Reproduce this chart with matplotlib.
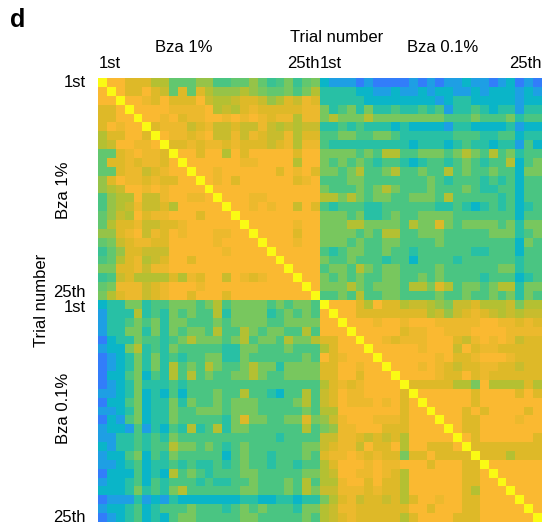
import numpy as np
import matplotlib
matplotlib.use("Agg")
import matplotlib.pyplot as plt
from matplotlib.colors import LinearSegmentedColormap

plt.rcParams['font.family'] = ['Liberation Sans', 'DejaVu Sans']

# similarity level per trial pair (0 = blue ... 9 = yellow)
# Bza 1% vs Bza 1%
block_11 = [
    "9 8 8 7 7 7 6 6 5 5 5 6 5 4 4 4 5 6 5 4 4 5 4 5 5",
    "8 9 8 7 7 8 7 7 5 7 5 7 6 6 6 6 6 5 5 5 4 5 4 5 6",
    "8 8 9 8 8 7 7 8 7 7 7 8 6 6 6 7 7 7 6 5 6 7 6 8 7",
    "7 7 8 9 8 8 8 8 7 7 7 7 8 5 7 5 8 8 8 8 7 7 8 8 8",
    "7 7 8 8 9 8 8 7 8 7 8 8 8 8 8 8 8 8 8 8 8 8 7 8 8",
    "7 8 8 8 8 9 7 7 7 7 6 6 7 6 6 7 6 6 7 7 6 6 7 6 6",
    "6 7 7 8 8 7 9 8 8 7 8 8 8 8 7 8 8 8 7 8 7 8 6 7 7",
    "6 6 8 8 8 8 8 9 7 7 7 7 7 7 7 7 7 7 7 7 8 8 6 8 7",
    "4 4 7 8 8 8 7 7 9 8 8 7 8 8 6 8 7 8 8 8 8 8 7 8 8",
    "4 7 7 8 7 8 8 7 8 9 8 8 8 8 8 8 7 8 8 8 8 8 6 8 8",
    "4 4 7 8 7 7 6 8 8 8 9 8 8 8 8 8 8 8 8 8 7 8 8 8 7",
    "5 7 8 8 7 8 7 7 7 8 8 9 8 7 8 7 8 8 8 8 8 8 7 7 8",
    "6 6 7 8 8 8 8 8 8 8 8 8 9 8 8 8 8 8 8 8 8 8 8 8 8",
    "4 5 6 7 8 7 5 8 8 8 7 8 8 9 8 8 8 7 8 8 8 8 8 8 8",
    "4 5 6 6 7 7 6 7 6 8 8 8 8 8 9 8 8 7 8 8 8 8 6 8 7",
    "5 5 6 7 8 7 7 8 8 8 8 7 8 8 8 9 8 8 8 8 8 8 8 8 8",
    "4 6 7 6 7 7 5 7 7 8 8 8 8 8 8 8 9 8 8 8 8 8 7 8 8",
    "5 6 7 7 8 7 7 7 8 7 8 8 8 8 8 8 8 9 8 8 8 8 7 8 8",
    "4 5 7 6 7 8 7 7 8 8 8 8 8 7 8 8 8 8 9 8 8 8 7 8 8",
    "3 4 6 6 6 6 5 6 8 8 8 8 8 8 7 8 8 8 8 9 8 8 8 8 8",
    "4 5 6 7 7 6 6 6 8 8 7 8 8 8 8 8 8 8 8 8 9 8 8 8 8",
    "5 5 7 7 7 7 7 7 8 8 8 8 8 8 8 8 8 8 8 8 8 9 8 8 8",
    "3 4 7 6 5 5 6 6 7 6 7 7 8 8 7 8 8 7 8 8 8 8 9 8 8",
    "4 5 7 7 7 7 7 7 8 8 8 8 8 8 8 8 8 8 8 8 8 8 8 9 8",
    "5 6 7 7 7 7 7 8 8 8 7 8 8 8 7 8 8 8 8 8 8 8 8 8 9",
]
# Bza 1% rows vs Bza 0.1% columns
block_12 = [
    "2 1 1 1 0 1 0 0 0 0 1 0 1 0 1 1 2 1 1 0 1 2 0 1 0",
    "3 3 3 3 2 2 1 1 2 1 1 2 1 2 2 1 1 2 1 2 2 2 1 2 1",
    "3 3 3 3 3 2 2 2 2 2 2 2 2 1 2 3 3 2 2 2 2 2 1 2 2",
    "5 3 4 5 3 5 3 3 4 3 3 4 3 4 1 3 3 4 3 2 3 3 1 3 3",
    "5 6 5 5 5 6 5 5 5 5 5 5 5 5 4 4 4 5 4 4 4 5 3 4 4",
    "3 3 4 3 4 3 3 3 2 3 2 2 2 2 1 3 3 2 2 2 2 3 1 2 2",
    "4 4 5 5 4 4 5 5 4 3 3 3 3 3 3 4 4 4 3 3 4 4 2 3 3",
    "4 3 3 3 3 3 3 3 3 3 2 3 3 3 2 3 4 3 3 2 3 3 1 4 2",
    "5 5 5 5 4 5 4 6 6 4 4 5 5 5 4 5 6 5 4 6 4 5 3 4 4",
    "5 4 5 4 5 4 3 4 4 3 2 3 4 4 3 4 5 4 3 4 4 6 2 4 5",
    "5 5 4 5 6 4 4 5 6 4 4 5 4 4 6 4 5 4 4 5 4 4 2 5 5",
    "4 4 4 5 5 4 4 4 4 4 4 4 5 4 3 4 4 4 3 4 3 4 2 4 4",
    "5 4 4 4 5 4 5 6 5 4 4 4 5 4 4 4 5 4 3 3 4 4 2 4 4",
    "6 6 5 6 5 4 5 5 4 4 5 5 5 4 6 4 4 4 4 4 3 4 2 4 4",
    "4 3 4 4 4 3 3 4 4 4 4 4 4 3 3 4 3 2 3 4 3 4 2 3 4",
    "5 5 5 4 5 3 3 4 5 4 4 5 5 5 5 4 4 4 4 4 4 4 2 4 4",
    "5 5 5 6 6 5 5 5 5 4 6 5 5 7 5 4 5 5 5 5 4 5 3 5 5",
    "5 5 5 5 4 5 4 6 6 4 4 5 5 5 4 4 4 4 4 5 5 5 3 4 5",
    "5 5 5 4 5 4 4 5 5 4 4 4 4 5 4 4 4 4 4 4 4 4 2 5 4",
    "4 3 4 5 5 4 4 5 4 4 3 4 4 4 4 4 4 3 3 4 4 4 2 4 4",
    "5 4 4 5 4 4 4 3 4 4 2 4 4 4 4 3 4 4 4 4 4 4 3 4 4",
    "4 5 5 4 6 5 4 5 5 4 4 4 4 5 4 4 4 4 4 4 5 5 3 4 4",
    "5 4 5 4 5 4 4 5 5 4 4 5 4 5 4 4 4 4 3 4 4 4 2 3 4",
    "5 5 5 6 5 4 5 5 5 4 6 6 5 7 6 4 5 5 4 5 6 6 3 5 5",
    "4 4 5 4 6 4 4 5 5 4 4 4 4 5 4 4 5 4 4 5 4 5 3 5 4",
]
# Bza 0.1% vs Bza 0.1%
block_22 = [
    "9 8 8 8 7 7 8 7 7 7 7 7 6 5 6 6 7 7 6 6 6 7 5 6 6",
    "8 9 8 8 7 7 7 7 7 7 7 7 6 6 5 6 7 7 7 6 6 6 6 7 6",
    "8 8 9 8 8 8 7 8 8 8 8 8 8 7 7 8 8 7 8 8 7 7 7 7 7",
    "8 8 8 9 8 8 8 8 8 7 7 7 8 8 7 8 8 8 8 8 8 8 8 8 8",
    "7 7 8 8 9 8 8 7 7 8 7 7 8 8 8 7 7 7 8 7 8 8 6 7 7",
    "5 7 8 8 8 9 8 8 8 8 8 7 8 8 8 6 8 7 8 7 7 7 7 7 7",
    "8 7 8 8 8 8 9 8 8 8 8 8 8 7 8 7 8 8 8 8 8 8 7 7 7",
    "7 7 8 8 8 8 8 9 8 8 8 8 8 7 7 6 7 6 8 7 7 7 6 7 7",
    "7 7 8 8 7 8 8 8 9 8 8 8 8 8 7 7 8 7 8 7 7 7 7 7 7",
    "5 7 7 7 7 8 8 8 8 9 7 7 7 7 7 6 6 5 8 6 6 6 6 7 6",
    "6 7 8 8 8 8 8 8 8 7 9 8 8 8 8 8 8 7 8 8 8 8 7 8 7",
    "6 7 8 8 8 8 8 7 8 7 8 9 8 8 8 8 8 7 8 8 8 8 8 8 8",
    "6 6 8 8 8 8 8 8 8 7 8 8 9 8 8 8 7 8 7 8 8 8 8 7 8",
    "6 7 8 8 8 8 8 8 7 7 8 8 8 9 8 8 7 7 8 8 8 8 8 8 8",
    "4 6 8 8 8 8 8 7 7 7 8 8 8 8 9 8 7 7 8 8 8 8 8 8 8",
    "7 7 7 7 7 7 7 7 7 6 8 8 8 8 8 9 8 7 8 8 8 8 8 8 7",
    "6 7 7 7 6 8 6 7 8 6 8 8 7 7 7 8 9 7 7 7 7 7 7 7 7",
    "7 8 8 8 8 7 7 8 7 5 7 7 8 7 7 7 7 9 7 7 7 6 7 7 7",
    "6 7 8 8 8 7 8 7 7 8 8 8 7 8 8 8 7 7 9 8 8 8 8 8 8",
    "6 7 8 8 8 8 8 8 7 6 8 8 8 8 8 8 7 7 8 9 8 8 8 8 8",
    "6 6 8 8 8 7 8 7 7 6 8 8 8 8 8 8 7 7 8 8 9 8 8 8 8",
    "6 7 8 7 7 7 7 7 7 6 8 8 8 8 8 8 7 6 8 8 8 9 8 8 8",
    "5 6 7 7 7 7 7 7 7 6 7 8 8 7 8 8 7 7 8 8 8 8 9 8 8",
    "6 6 8 7 7 7 7 7 7 7 8 8 7 8 8 8 7 7 8 8 8 8 8 9 8",
    "6 7 7 7 7 7 7 7 7 6 7 8 8 8 8 7 7 7 8 8 8 8 8 8 9",
]

tick_labels = ["1st", "25th", "1st", "25th"]
group_names = ["Bza 1%", "Bza 0.1%"]
axis_name = "Trial number"


def to_array(rows):
    return np.array([[int(c) for c in r.split()] for r in rows], dtype=float)


b11 = to_array(block_11)
b12 = to_array(block_12)
b22 = to_array(block_22)
mat = np.block([[b11, b12], [b12.T, b22]])
mat = (mat + mat.T) / 2
n = mat.shape[0]

# parula-like colours matched to the figure
level_colors = [
    (50, 125, 250), (30, 160, 228), (10, 182, 200), (40, 192, 165),
    (75, 198, 130), (120, 200, 95), (180, 192, 50), (222, 185, 40),
    (250, 185, 50), (250, 250, 20),
]
cmap = LinearSegmentedColormap.from_list(
    "parula_like", [tuple(v / 255 for v in c) for c in level_colors])

fig = plt.figure(figsize=(5.53, 5.29), dpi=100)
ax = fig.add_axes([98.3 / 553, 1 - 521.8 / 529, 443.5 / 553, 443.5 / 529])
ax.imshow(mat, cmap=cmap, vmin=0, vmax=9, aspect='auto', interpolation='nearest')

for s in ax.spines.values():
    s.set_visible(False)

half = n // 2
ax.xaxis.tick_top()
ax.set_xticks([-0.5, half - 0.51, half - 0.49, n - 0.5])
ax.set_xticklabels(tick_labels, fontsize=12)
for lab, ha in zip(ax.get_xticklabels(), ["left", "right", "left", "right"]):
    lab.set_ha(ha)
ax.set_yticks([0, half - 0.51, half - 0.49, n - 1])
ax.set_yticklabels(tick_labels, fontsize=12)
for lab, va in zip(ax.get_yticklabels(), ["center", "bottom", "top", "center"]):
    lab.set_va(va)
ax.tick_params(length=0, pad=5)
ax.tick_params(axis='y', pad=9)

fig.text(10 / 553, 1 - 20 / 529, "d", fontsize=18, fontweight='bold', va='center')
fig.text(337 / 553, 1 - 37 / 529, axis_name, fontsize=12, ha='center', va='center')
fig.text(184 / 553, 1 - 48 / 529, group_names[0], fontsize=12, ha='center', va='center')
fig.text(443 / 553, 1 - 48 / 529, group_names[1], fontsize=12, ha='center', va='center')
fig.text(42 / 553, 1 - 300 / 529, axis_name, fontsize=12, ha='center', va='center', rotation=90)
fig.text(64 / 553, 1 - 190 / 529, group_names[0], fontsize=12, ha='center', va='center', rotation=90)
fig.text(64 / 553, 1 - 408 / 529, group_names[1], fontsize=12, ha='center', va='center', rotation=90)

fig.savefig("out.png", dpi=100)
